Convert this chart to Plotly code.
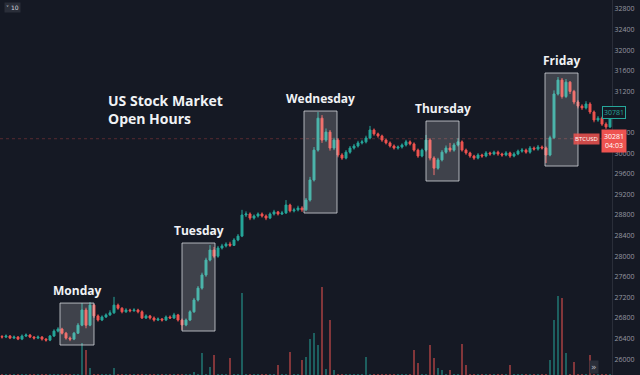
import plotly.graph_objects as go

# ---------------- data ----------------
closes = [26430,26450,26410,26430,26390,26450,26470,26430,26410,26430,
          26390,26370,26450,26545,26585,26505,26410,26390,26505,26660,
          26955,26660,27050,26840,26760,26820,26860,26900,27050,26990,
          26920,26955,26940,26955,26920,26800,26840,26800,26760,26780,
          26760,26820,26800,26860,26760,26665,26760,26920,27150,27380,
          27635,27925,28120,28000,28160,28200,28235,28210,28315,28390,
          28800,28820,28740,28780,28820,28780,28740,28820,28860,28820,
          28840,28995,28880,28900,28935,28900,29090,29480,30060,30680,
          30255,30410,30100,30255,29965,29905,30020,30100,30140,30200,
          30220,30295,30450,30375,30335,30255,30200,30140,30100,30120,
          30160,30220,30180,30060,29945,30060,30255,29905,29710,29870,
          30020,30100,30060,30160,30220,30060,30005,29945,29905,29965,
          29945,30005,29985,30020,29985,29965,30005,29945,29985,30040,
          30060,30020,30100,30080,30120,30100,29965,30300,31150,31420,
          31100,31380,31200,30995,30915,30880,30955,30800,30645,30680,
          30565,30510,30680]

opens = [26440,26430,26450,26410,26430,26390,26450,26470,26430,26410,
         26430,26390,26370,26450,26545,26585,26505,26410,26390,26505,
         26660,26955,26660,27050,26840,26760,26820,26860,26900,27050,
         26990,26920,26955,26940,26955,26920,26800,26840,26800,26760,
         26780,26760,26820,26800,26860,26760,26665,26760,26920,27150,
         27380,27635,27925,28120,28000,28160,28200,28235,28210,28315,
         28390,28800,28820,28740,28780,28820,28780,28740,28820,28860,
         28820,28840,28995,28880,28900,28935,28900,29090,29480,30060,
         30680,30255,30410,30100,30255,29965,29905,30020,30100,30140,
         30200,30220,30295,30450,30375,30335,30255,30200,30140,30100,
         30120,30160,30220,30180,30060,29945,30060,30255,29905,29710,
         29870,30020,30100,30060,30160,30220,30060,30005,29945,29905,
         29965,29945,30005,29985,30020,29985,29965,30005,29945,29985,
         30040,30060,30020,30100,30080,30120,30100,29965,30300,31150,
         31420,31100,31380,31200,30995,30915,30880,30955,30800,30645,
         30680,30565,30510]

highs = [26470,26480,26470,26460,26450,26480,26500,26490,26450,26460,
         26450,26410,26470,26580,26620,26610,26530,26440,26530,26700,
         27090,27000,27110,27070,26870,26850,26890,26950,27210,27080,
         27010,26990,26980,26990,26980,26950,26870,26860,26830,26810,
         26800,26850,26850,26900,26880,26790,26790,26950,27190,27420,
         27680,27970,28215,28180,28200,28240,28270,28280,28350,28430,
         28900,28870,28850,28810,28850,28850,28810,28850,28900,28880,
         28880,29090,29020,28940,28980,28970,29130,29540,30120,30800,
         30740,30480,30450,30300,30290,30000,30060,30140,30180,30240,
         30260,30340,30530,30480,30400,30360,30280,30230,30170,30150,
         30190,30260,30250,30210,30090,30090,30355,30290,29940,29910,
         30060,30150,30200,30200,30290,30250,30090,30030,29970,30000,
         29990,30040,30030,30050,30050,30010,30040,30030,30020,30070,
         30100,30090,30140,30130,30160,30150,30130,30340,31220,31480,
         31460,31440,31400,31230,31030,30950,31010,30990,30830,30720,
         30710,30600,30720]

lows = [26400,26410,26390,26390,26370,26370,26430,26410,26380,26390,
        26360,26340,26350,26430,26520,26480,26380,26350,26370,26490,
        26640,26600,26640,26800,26730,26740,26800,26840,26880,26960,
        26890,26900,26910,26920,26890,26780,26780,26770,26730,26740,
        26730,26740,26780,26780,26730,26570,26640,26740,26900,27120,
        27350,27600,27900,27960,27970,28130,28170,28180,28240,28290,
        28370,28760,28700,28710,28750,28750,28700,28720,28790,28790,
        28800,28820,28850,28850,28870,28860,28880,29060,29450,30030,
        30200,30220,30050,30060,29920,29870,29880,29990,30070,30110,
        30170,30190,30270,30340,30300,30220,30170,30110,30070,30070,
        30090,30130,30150,30030,29910,29920,30030,29860,29575,29680,
        29840,29990,30020,30030,30130,30030,29970,29910,29870,29880,
        29910,29920,29950,29960,29950,29930,29940,29910,29920,29960,
        30010,29990,29990,30050,30050,30070,29810,29940,30280,31120,
        31060,31070,31150,30950,30870,30840,30850,30760,30600,30610,
        30530,30470,30490]

volumes = [10,10,10,10,10,10,10,10,10,10,
           10,10,10,10,10,10,10,10,10,10,
           320,250,70,10,10,10,10,10,70,10,
           10,10,10,10,10,10,10,10,10,10,
           10,10,10,10,10,10,10,10,30,10,
           220,10,80,200,10,10,10,170,10,10,
           820,10,10,10,10,10,10,10,10,100,
           10,10,230,10,10,150,180,360,420,300,
           880,60,550,50,10,10,10,10,10,10,
           10,180,10,10,10,10,10,10,10,10,
           10,10,10,250,120,10,10,300,170,70,
           50,10,50,10,10,310,100,10,10,10,
           10,10,10,10,10,10,10,100,10,10,
           10,10,10,10,10,10,10,150,550,790,
           770,220,10,130,10,10,10,200,10,10,
           10,10,10]

# 30800 is hidden behind the 30781 price marker in the reference
price_ticks = [26000,26400,26800,27200,27600,28000,28400,28800,29200,
               29600,30000,30400,31200,31600,32000,32400,32800]

day_names = ["Monday", "Tuesday", "Wednesday", "Thursday", "Friday"]
# US session windows (candle index start/end) and price span of each highlight box
session_start = [14.5, 45.0, 75.5, 106.0, 135.75]
session_end = [23.0, 53.25, 83.75, 114.25, 144.0]
session_top = [27090, 28256, 30819, 30625, 31557]
session_bottom = [26275, 26547, 28838, 29460, 29751]

last_price = 30281
marker_price = 30781

# ---------------- styling ----------------
BG = "#151924"
UP = "#26a69a"
DOWN = "#ef5350"
UP_VOL = "rgba(38,166,154,0.5)"
DOWN_VOL = "rgba(239,83,80,0.5)"

W_PLOT, H_PLOT = 612, 375


def px(x, y):
    return x / W_PLOT, 1 - y / H_PLOT


idx = list(range(len(closes)))
vol_colors = [UP_VOL if c >= o else DOWN_VOL for o, c in zip(opens, closes)]

fig = go.Figure()
fig.add_trace(go.Bar(x=idx, y=volumes, marker_color=vol_colors,
                     marker_line_width=0, width=0.5, yaxis="y",
                     hoverinfo="skip"))
fig.add_trace(go.Candlestick(
    x=idx, open=opens, high=highs, low=lows, close=closes, yaxis="y2",
    increasing=dict(line=dict(color=UP, width=1), fillcolor=UP),
    decreasing=dict(line=dict(color=DOWN, width=1), fillcolor=DOWN),
    whiskerwidth=0))

shapes = []
annotations = []
for name, x0, x1, yt, yb in zip(day_names, session_start, session_end,
                                session_top, session_bottom):
    shapes.append(dict(type="rect", xref="x", yref="y2", x0=x0, x1=x1,
                       y0=yb, y1=yt, layer="above",
                       fillcolor="rgba(255,255,255,0.18)",
                       line=dict(color="rgba(210,212,218,0.8)", width=1)))
    annotations.append(dict(xref="x", yref="y2", x=(x0 + x1) / 2, y=yt,
                            yshift=13, text="<b>" + name + "</b>",
                            showarrow=False,
                            font=dict(family="Open Sans", size=12,
                                      color="#f0f2f5")))

shapes.append(dict(type="line", xref="paper", yref="y2", x0=0, x1=1,
                   y0=last_price, y1=last_price, layer="below",
                   line=dict(color="rgba(239,83,80,0.3)", width=1,
                             dash="dot")))

x, y = px(106, 101)
annotations.append(dict(xref="paper", yref="paper", x=x, y=y, xanchor="left",
                        yanchor="middle", text="<b>US Stock Market</b>",
                        showarrow=False,
                        font=dict(family="Open Sans", size=14,
                                  color="#f0f2f5")))
x, y = px(106, 118)
annotations.append(dict(xref="paper", yref="paper", x=x, y=y, xanchor="left",
                        yanchor="middle", text="<b>Open Hours</b>",
                        showarrow=False,
                        font=dict(family="Open Sans", size=14,
                                  color="#f0f2f5")))

# right-side price labels
x, _ = px(626, 0)
annotations.append(dict(xref="paper", yref="y2", x=x, y=marker_price,
                        text=str(marker_price), showarrow=False,
                        bgcolor=BG, bordercolor=UP, borderwidth=1, borderpad=1,
                        font=dict(family="Open Sans", size=7, color=UP)))
x, _ = px(627, 0)
annotations.append(dict(xref="paper", yref="y2", x=x, y=last_price,
                        yshift=-2,
                        text=str(last_price) + "<br>04:03", showarrow=False,
                        bgcolor=DOWN, borderpad=2, align="center",
                        font=dict(family="Open Sans", size=7,
                                  color="#ffffff")))
x, _ = px(600, 0)
annotations.append(dict(xref="paper", yref="y2", x=x, y=last_price,
                        text="BTCUSD", showarrow=False,
                        bgcolor="rgba(239,83,80,0.85)", borderpad=1,
                        font=dict(family="Open Sans", size=6,
                                  color="#ffffff")))
# tiny UI widgets
x, y = px(4, 8)
annotations.append(dict(xref="paper", yref="paper", x=x, y=y, xanchor="left",
                        yanchor="middle", text="˅ 10", showarrow=False,
                        bgcolor="#2a2e39", borderpad=1,
                        font=dict(family="DejaVu Sans", size=6,
                                  color="#d1d4dc")))
x, y = px(599, 367)
annotations.append(dict(xref="paper", yref="paper", x=x, y=y,
                        yanchor="middle", text="»", showarrow=False,
                        bgcolor="#2a2e39", borderpad=1,
                        font=dict(family="DejaVu Sans", size=9,
                                  color="#b2b5be")))

fig.update_layout(
    width=640, height=375,
    margin=dict(l=0, r=28, t=0, b=0, autoexpand=False),
    paper_bgcolor=BG, plot_bgcolor=BG,
    showlegend=False,
    shapes=shapes, annotations=annotations,
    xaxis=dict(range=[-0.5, len(closes) - 0.5], visible=False,
               automargin=False, rangeslider=dict(visible=False)),
    yaxis=dict(range=[0, 3750], visible=False, automargin=False),
    yaxis2=dict(overlaying="y", side="right", range=[25693, 32975],
                automargin=False,
                tickvals=price_ticks, ticktext=[str(t) for t in price_ticks],
                tickfont=dict(family="Open Sans", size=7, color="#9598a1"),
                showgrid=False, zeroline=False, showline=True,
                linecolor="#2a2e39", linewidth=1, ticks=""),
)

fig.write_html(
    "out.html",
    config={"displayModeBar": False},
    post_script="document.body.style.margin='0';"
                "document.body.style.overflow='hidden';"
                "document.body.style.background='" + BG + "';",
)
